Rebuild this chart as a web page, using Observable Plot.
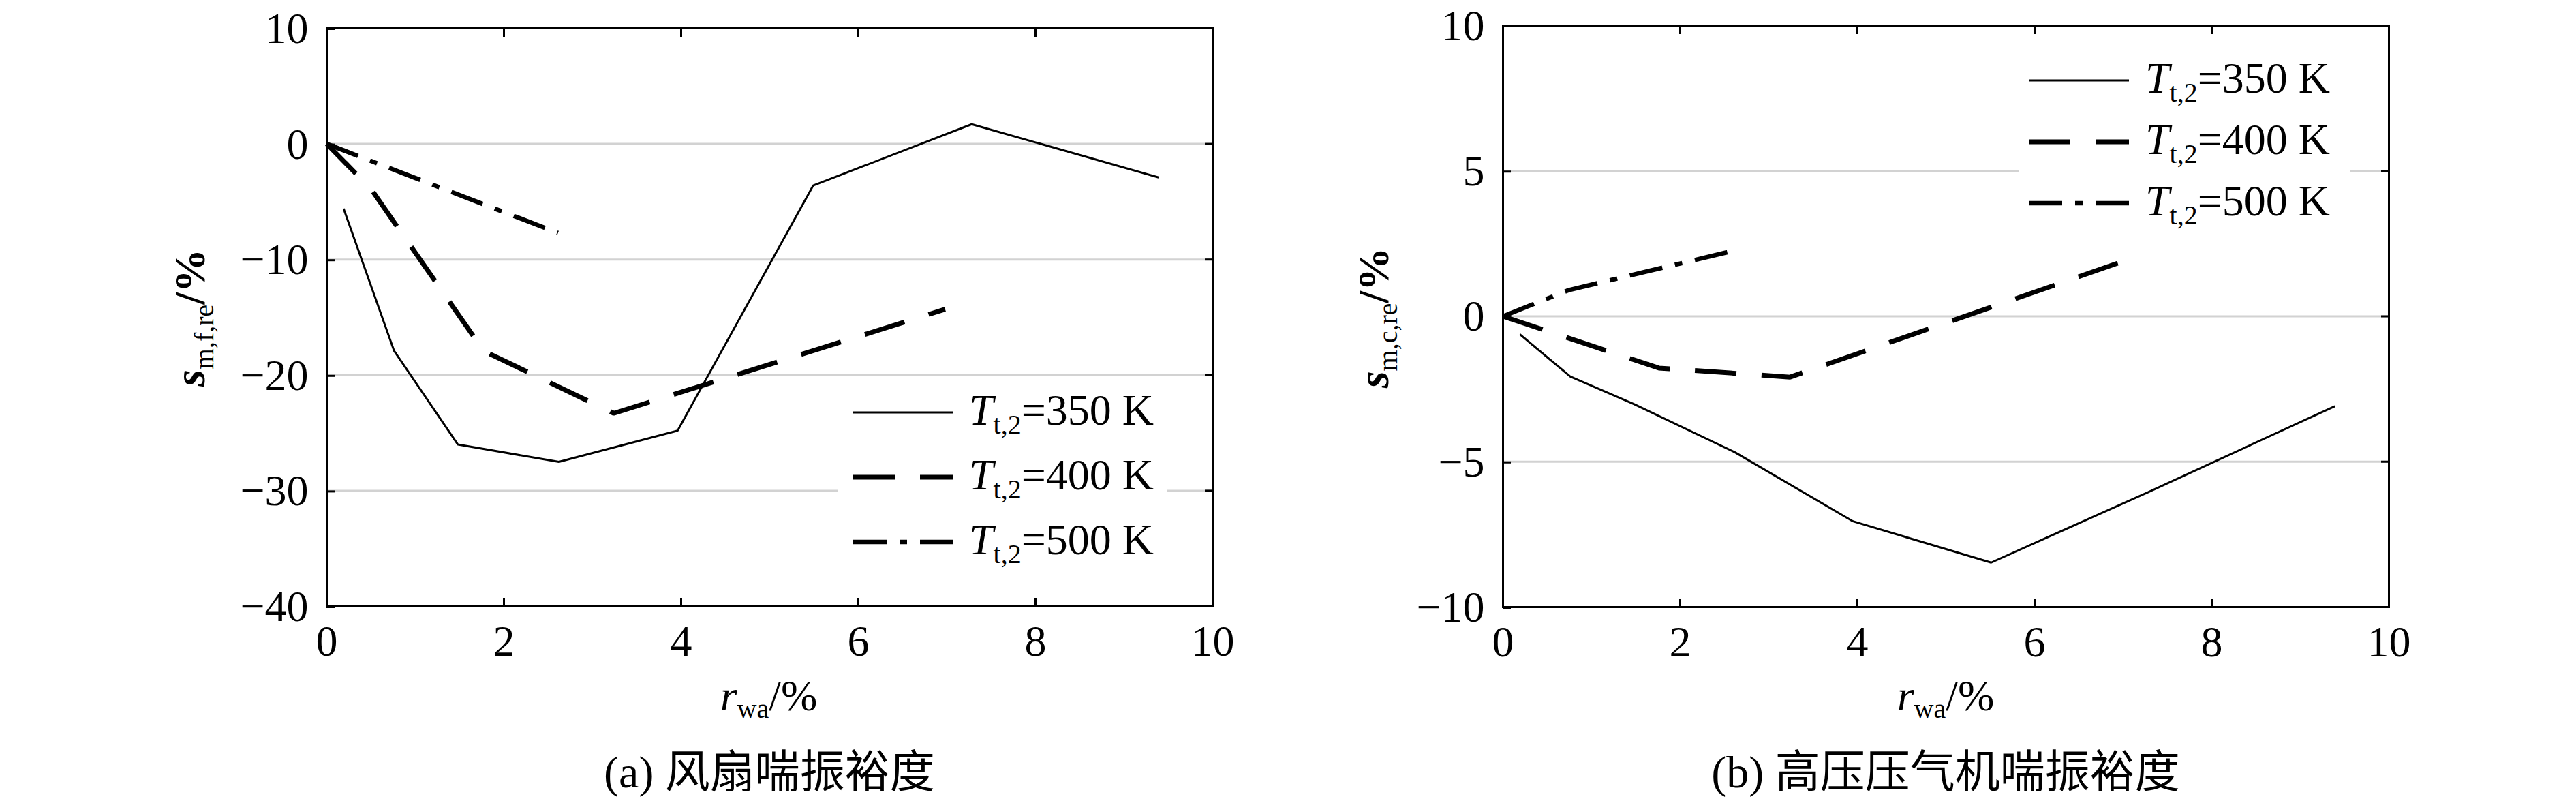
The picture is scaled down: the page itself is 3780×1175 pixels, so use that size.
<!DOCTYPE html>
<html>
<head>
<meta charset="utf-8">
<script src="https://cdn.jsdelivr.net/npm/d3@7"></script>
<script src="https://cdn.jsdelivr.net/npm/@observablehq/plot@0.6"></script>
<style>
  html, body { margin: 0; padding: 0; background: #fff; }
  #wrap { position: relative; width: 3780px; height: 1175px; overflow: hidden; background: #fff; }
  .panel { position: absolute; top: 0; }
  #overlay { position: absolute; left: 0; top: 0; pointer-events: none; }
  #overlay text { font-family: "Liberation Serif", "Times New Roman", serif; fill: #000; }
</style>
</head>
<body>
<div id="wrap">
  <div class="panel" id="pa" style="left:0px"></div>
  <div class="panel" id="pb" style="left:1890px"></div>
</div>
<script>
// ---------- data ----------
const xTicks = [0, 2, 4, 6, 8, 10];
const yTicksA = [10, 0, -10, -20, -30, -40];
const yTicksB = [10, 5, 0, -5, -10];
const gridA = [0, -10, -20, -30];
const gridB = [5, 0, -5];

const seriesNames = ["350", "400", "500"];

// (a) fan surge margin
const xA350 = [0.19, 0.76, 1.48, 2.62, 3.96, 5.49, 7.28, 9.39];
const yA350 = [-5.6, -17.9, -26.0, -27.5, -24.8, -3.6, 1.7, -2.9];
const xA400 = [0, 0.50, 1.77, 3.24, 6.98];
const yA400 = [0, -3.9, -17.9, -23.3, -14.3];
const xA500 = [0, 2.61];
const yA500 = [0, -7.7];

// (b) HP compressor surge margin
const xB350 = [0.19, 0.76, 1.48, 2.62, 3.95, 5.51, 7.28, 9.39];
const yB350 = [-0.62, -2.07, -3.02, -4.68, -7.05, -8.47, -6.05, -3.09];
const xB400 = [0, 1.76, 3.24, 6.96];
const yB400 = [0, -1.78, -2.09, 1.85];
const xB500 = [0, 0.74, 2.54];
const yB500 = [0, 0.90, 2.21];

// ---------- styles ----------
const lineStyles = {
  "350": {strokeWidth: 3, strokeDasharray: null},
  "400": {strokeWidth: 7, strokeDasharray: "61,37"},
  "500": {strokeWidth: 6.5, strokeDasharray: "49,19,11,19"}
};

const toRows = (xs, ys) => xs.map((x, i) => ({x, y: ys[i]}));
const fmt = d => d < 0 ? "\u2212" + (-d) : String(d);

function panel({yDomain, yTicks, grid, series, mL, mR, mT, mB}) {
  const lines = series.map(([name, rows]) => Plot.line(rows, {
    x: "x", y: "y", stroke: "black",
    strokeWidth: lineStyles[name].strokeWidth,
    strokeDasharray: lineStyles[name].strokeDasharray,
    strokeLinecap: "butt", strokeLinejoin: "miter"
  }));
  return Plot.plot({
    width: 1890, height: 1175,
    marginLeft: mL, marginRight: mR, marginTop: mT, marginBottom: mB,
    x: {domain: [0, 10]},
    y: {domain: yDomain},
    style: {fontFamily: "'Liberation Serif', 'Times New Roman', serif", fontSize: "64px", color: "black", background: "transparent", overflow: "visible"},
    marks: [
      Plot.ruleY(grid, {stroke: "#d2d2d2", strokeWidth: 3}),
      ...lines,
      Plot.frame({stroke: "black", strokeWidth: 3}),
      Plot.axisX({anchor: "bottom", ticks: xTicks, tickSize: -12, tickPadding: 39, strokeWidth: 3, label: null, tickFormat: fmt, fontSize: 64}),
      Plot.axisX({anchor: "top", ticks: xTicks, tickSize: -12, strokeWidth: 3, label: null, tickFormat: () => ""}),
      Plot.axisY({anchor: "left", ticks: yTicks, tickSize: -12, tickPadding: 39, strokeWidth: 3, label: null, tickFormat: fmt, fontSize: 64, dy: 1}),
      Plot.axisY({anchor: "right", ticks: yTicks, tickSize: -12, strokeWidth: 3, label: null, tickFormat: () => ""})
    ]
  });
}

document.getElementById("pa").appendChild(panel({
  yDomain: [-40, 10], yTicks: yTicksA, grid: gridA,
  series: [["350", toRows(xA350, yA350)], ["400", toRows(xA400, yA400)], ["500", toRows(xA500, yA500)]],
  mL: 479, mR: 111, mT: 41, mB: 286
}));
document.getElementById("pb").appendChild(panel({
  yDomain: [-10, 10], yTicks: yTicksB, grid: gridB,
  series: [["350", toRows(xB350, yB350)], ["400", toRows(xB400, yB400)], ["500", toRows(xB500, yB500)]],
  mL: 315, mR: 275, mT: 37, mB: 285
}));

// ---------- overlay: labels, legends, captions ----------
function legend(x0, y0, w, h, lx1, lx2, tx, rows) {
  let s = `<rect x="${x0}" y="${y0}" width="${w}" height="${h}" fill="#fff"/>`;
  seriesNames.forEach((name, i) => {
    const y = rows[i];
    const st = lineStyles[name];
    s += `<line x1="${lx1}" x2="${lx2}" y1="${y}" y2="${y}" stroke="#000" stroke-width="${st.strokeWidth}" ${st.strokeDasharray ? `stroke-dasharray="${st.strokeDasharray}"` : ""}/>`;
    s += `<text x="${tx}" y="${y + 18}" font-size="64"><tspan font-style="italic">T</tspan><tspan font-size="40" dy="13">t,2</tspan><tspan dy="-13">=${name} K</tspan></text>`;
  });
  return s;
}
function ylab(x, y, sub) {
  return `<text transform="translate(${x},${y}) rotate(-90)" text-anchor="middle" font-size="64"><tspan font-style="italic" font-weight="bold">s</tspan><tspan font-size="40" dy="13">${sub}</tspan><tspan dy="-13" font-weight="bold">/%</tspan></text>`;
}
function xlab(x, y) {
  return `<text x="${x}" y="${y}" text-anchor="middle" font-size="64"><tspan font-style="italic">r</tspan><tspan font-size="40" dy="11">wa</tspan><tspan dy="-11">/%</tspan></text>`;
}
function caption(x, y, t) {
  return `<text x="${x}" y="${y}" text-anchor="middle" font-size="66" style="font-family:'Liberation Serif','Noto Sans CJK SC',serif">${t}</text>`;
}
const ov = `<svg id="overlay" width="3780" height="1175" xmlns="http://www.w3.org/2000/svg">
${legend(1230, 560, 482, 290, 1252, 1398, 1422, [605, 700, 795])}
${legend(2963, 75, 485, 260, 2977, 3124, 3148, [118, 208, 298])}
${ylab(300, 466, "m,f,re")}
${ylab(2037, 466, "m,c,re")}
${xlab(1128, 1042)}
${xlab(2855, 1042)}
${caption(1129, 1155, "(a) 风扇喘振裕度")}
${caption(2855, 1155, "(b) 高压压气机喘振裕度")}
</svg>`;
document.getElementById("wrap").insertAdjacentHTML("beforeend", ov);
</script>
</body>
</html>
